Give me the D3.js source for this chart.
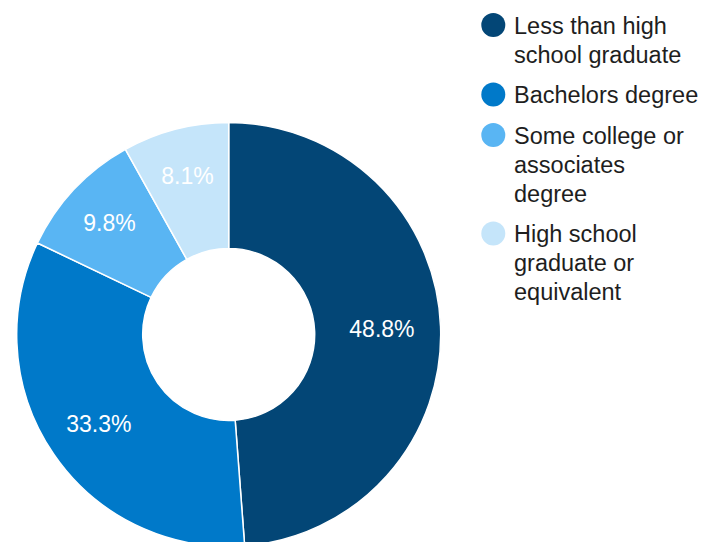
<!DOCTYPE html>
<html>
<head>
<meta charset="utf-8">
<script src="https://cdn.jsdelivr.net/npm/d3@7"></script>
<style>
  html, body { margin: 0; padding: 0; background: #fff; }
  svg { display: block; }
  text { font-family: "Liberation Sans", Arial, Helvetica, sans-serif; }
  text.val { font-family: "Liberation Sans Narrow", "Arial Narrow", sans-serif; }
</style>
</head>
<body>
<script>
// Educational attainment shares
const categories = [
  "Less than high school graduate",
  "Bachelors degree",
  "Some college or associates degree",
  "High school graduate or equivalent"
];
const values = [48.8, 33.3, 9.8, 8.1];
const colors = ["#034676", "#0079c9", "#59b5f3", "#c5e5fa"];
// Legend text, wrapped into lines
const legendLines = [
  ["Less than high", "school graduate"],
  ["Bachelors degree"],
  ["Some college or", "associates", "degree"],
  ["High school", "graduate or", "equivalent"]
];

const W = 703, H = 542;
const cx = 228.7, cy = 334.5;
const outerR = 212, innerR = 86;

const svg = d3.select("body").append("svg")
  .attr("width", W).attr("height", H);

const total = d3.sum(values);
const data = categories.map((c, i) => ({ name: c, value: values[i], color: colors[i] }));

const pie = d3.pie().sort(null).value(d => d.value);
const arc = d3.arc().innerRadius(innerR).outerRadius(outerR);

const g = svg.append("g").attr("transform", `translate(${cx},${cy})`);
const arcs = pie(data);

g.selectAll("path.slice")
  .data(arcs)
  .join("path")
  .attr("class", "slice")
  .attr("d", arc)
  .attr("fill", d => d.data.color)
  .attr("stroke", "#fff")
  .attr("stroke-width", 1.5)
  .attr("stroke-linejoin", "round");

// Value labels: narrower slices push their label further out, where the ring is wider
function labelPos(d) {
  const share = d.data.value / total;
  const r = 166 - 26 * share;
  const a = (d.startAngle + d.endAngle) / 2;
  return [r * Math.sin(a), -r * Math.cos(a)];
}

g.selectAll("text.val")
  .data(arcs)
  .join("text")
  .attr("class", "val")
  .attr("transform", d => `translate(${labelPos(d)})`)
  .attr("text-anchor", "middle")
  .attr("dy", "0.36em")
  .attr("fill", "#fff")
  .attr("font-size", 23)
  .text(d => d3.format(".1f")(d.data.value) + "%");

// Legend
const legend = svg.append("g");
const lineH = 29, itemGap = 11.5;
let y = 33.5;
legendLines.forEach((lines, i) => {
  const item = legend.append("g");
  item.append("circle")
    .attr("cx", 493.3).attr("cy", y - 8.5).attr("r", 12)
    .attr("fill", colors[i]);
  const t = item.append("text")
    .attr("x", 514).attr("y", y)
    .attr("font-size", 23.5)
    .attr("fill", "#1e1e1e");
  lines.forEach((ln, k) => {
    t.append("tspan").attr("x", 514).attr("y", y + k * lineH).text(ln);
  });
  y += lines.length * lineH + itemGap;
});
</script>
</body>
</html>
